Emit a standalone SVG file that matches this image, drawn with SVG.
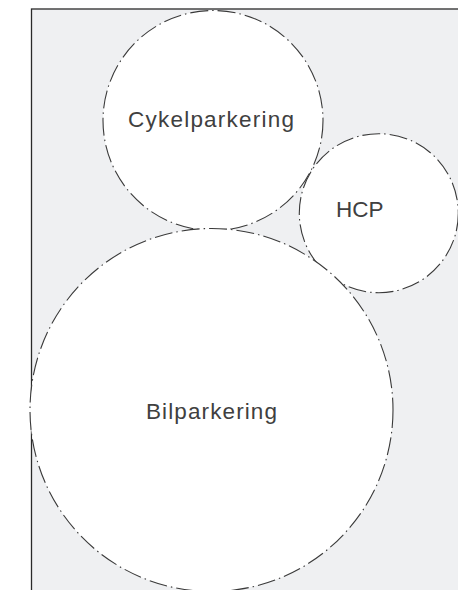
<svg xmlns="http://www.w3.org/2000/svg" width="458" height="590" viewBox="0 0 458 590">
<style>
.zone{fill:#ffffff;stroke:#3a3a3a;stroke-width:1.1;stroke-dasharray:18 4 1.5 4}
.lbl{font-family:"Liberation Sans",Arial,sans-serif;font-size:22.5px;fill:#404040;text-anchor:middle}
</style>
<rect x="0" y="0" width="458" height="590" fill="#ffffff"/>
<rect id="area" x="31.5" y="9" width="440" height="600" fill="#eff0f2" stroke="#2a2a2a" stroke-width="1.3"/>
<g id="cykelparkering">
<circle class="zone" cx="213" cy="120.5" r="110"/>
<text class="lbl" x="211" y="127" textLength="166" lengthAdjust="spacing">Cykelparkering</text>
</g>
<g id="hcp">
<circle class="zone" cx="378.8" cy="213.2" r="79.5"/>
<text class="lbl" x="359.7" y="216.7">HCP</text>
</g>
<g id="bilparkering">
<circle class="zone" cx="211.5" cy="410" r="181.5"/>
<text class="lbl" x="211.5" y="419.3" textLength="131" lengthAdjust="spacing">Bilparkering</text>
</g>
<g id="connectors"/>
</svg>
